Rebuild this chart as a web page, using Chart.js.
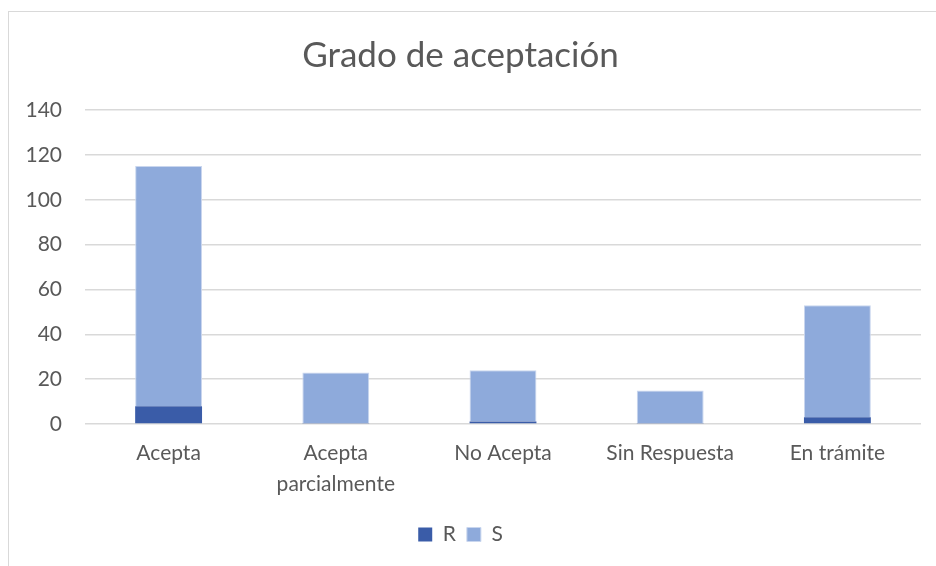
<!DOCTYPE html>
<html>
<head>
<meta charset="utf-8">
<script src="https://cdn.jsdelivr.net/npm/chart.js@4.4.1/dist/chart.umd.min.js"></script>
<style>
  body { margin: 0; background: #fff; }
  .frame {
    position: absolute; left: 8px; top: 11px; width: 960px; height: 600px;
    border: 1px solid #d9d9d9; box-sizing: border-box;
  }
  .wrap { position: absolute; left: 0; top: 0; width: 936px; height: 566px; }
</style>
</head>
<body>
<div class="frame"></div>
<div class="wrap"><canvas id="chart"></canvas></div>
<script>
const categories = ["Acepta", ["Acepta", "parcialmente"], "No Acepta", "Sin Respuesta", "En trámite"];
const valuesR = [8, 0.5, 1.2, 0.5, 3];
const valuesS = [107, 22.5, 22.8, 14.5, 50];
const yTicks = [0, 20, 40, 60, 80, 100, 120, 140];

const ctx = document.getElementById("chart");
const font = "Lato, 'Open Sans', sans-serif";

new Chart(ctx, {
  type: "bar",
  data: {
    labels: categories,
    datasets: [
      {
        label: "R",
        data: valuesR,
        backgroundColor: "#3a5ca8",
        borderColor: "#3a5ca8",
        borderWidth: 0,
        barPercentage: 0.8,
        categoryPercentage: 0.5,
      },
      {
        label: "S",
        data: valuesS,
        backgroundColor: "#8eaadb",
        borderColor: "#c9d6ee",
        borderWidth: 1,
        borderSkipped: "bottom",
        barPercentage: 0.8,
        categoryPercentage: 0.5,
      },
    ],
  },
  options: {
    responsive: true,
    maintainAspectRatio: false,
    animation: false,
    layout: { padding: { left: 0, right: 15, top: 0, bottom: 11 } },
    plugins: {
      title: {
        display: true,
        text: "Grado de aceptación",
        color: "#595959",
        font: { family: font, size: 35, weight: "normal" },
        padding: { top: 35, bottom: 33 },
      },
      legend: {
        position: "bottom",
        labels: {
          color: "#595959",
          font: { family: font, size: 21 },
          boxWidth: 14,
          boxHeight: 14,
          padding: 11,
        },
      },
      tooltip: { enabled: false },
    },
    scales: {
      x: {
        stacked: true,
        grid: { display: false, drawTicks: false },
        border: { display: false },
        ticks: {
          color: "#595959",
          font: { family: font, size: 21, lineHeight: 1.45 },
          padding: 14,
          maxRotation: 0,
        },
      },
      y: {
        stacked: true,
        min: 0,
        max: 140,
        afterFit: (scale) => { scale.width = 85; },
        afterBuildTicks: (scale) => {
          scale.ticks = yTicks.map((v) => ({ value: v }));
        },
        grid: { color: "#d9d9d9", lineWidth: 1.5, drawTicks: false },
        border: { display: false },
        ticks: {
          color: "#595959",
          font: { family: font, size: 21 },
          padding: 23,
        },
      },
    },
  },
});
</script>
</body>
</html>
